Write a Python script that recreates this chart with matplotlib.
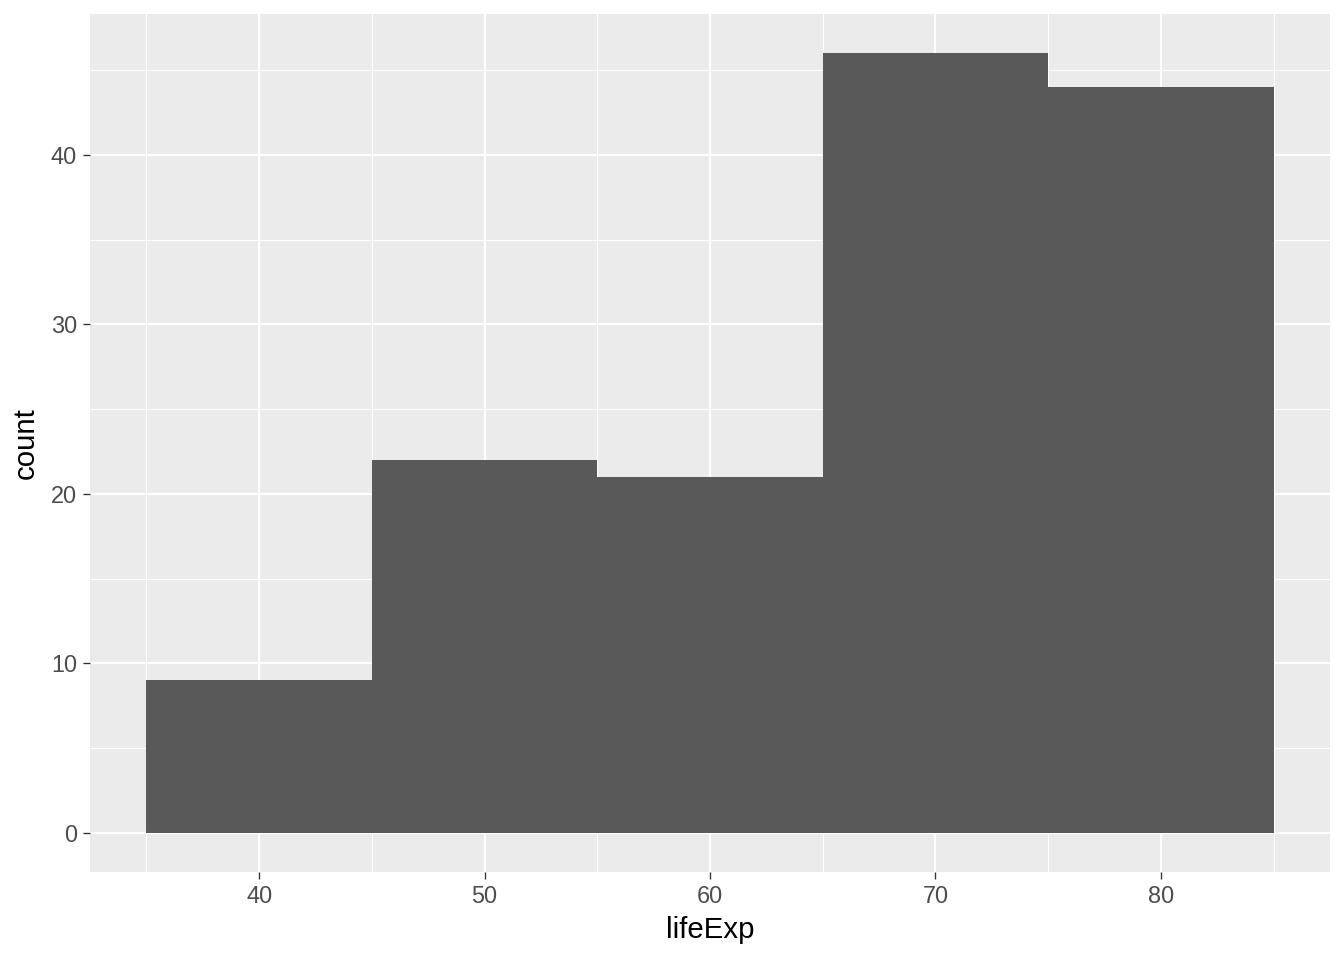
import matplotlib
matplotlib.use("Agg")
import matplotlib.pyplot as plt
import numpy as np

bin_edges = [35, 45, 55, 65, 75, 85]
counts = [9, 22, 21, 46, 44]
x_ticks = [40, 50, 60, 70, 80]
y_ticks = [0, 10, 20, 30, 40]

plt.rcParams['font.family'] = ['Liberation Sans', 'DejaVu Sans']

fig = plt.figure(figsize=(7, 5), dpi=192)
ax = fig.add_axes([90/1344, 1-872/960, (1330-90)/1344, (872-14)/960])
ax.set_facecolor('#EBEBEB')
for s in ax.spines.values():
    s.set_visible(False)

ax.set_xlim(32.5, 87.5)
ax.set_ylim(-2.3, 48.3)

# minor gridlines
for xm in [35, 45, 55, 65, 75, 85]:
    ax.axvline(xm, color='white', lw=0.4, zorder=0.5)
for ym in [5, 15, 25, 35, 45]:
    ax.axhline(ym, color='white', lw=0.4, zorder=0.5)
for xv in x_ticks:
    ax.axvline(xv, color='white', lw=0.8, zorder=0.6)
for yv in y_ticks:
    ax.axhline(yv, color='white', lw=0.8, zorder=0.6)

lefts = np.array(bin_edges[:-1])
widths = np.diff(bin_edges)
ax.bar(lefts, counts, width=widths, align='edge', color='#595959', zorder=2, linewidth=0)

ax.set_xticks(x_ticks)
ax.set_yticks(y_ticks)
ax.tick_params(axis='both', colors='#333333', length=2.75, width=0.5, labelsize=8.8, labelcolor='#4D4D4D', pad=2.2)
ax.set_xlabel('lifeExp', fontsize=11, color='black', labelpad=3)
ax.set_ylabel('count', fontsize=11, color='black', labelpad=4)

fig.savefig('out.png', dpi=192)
